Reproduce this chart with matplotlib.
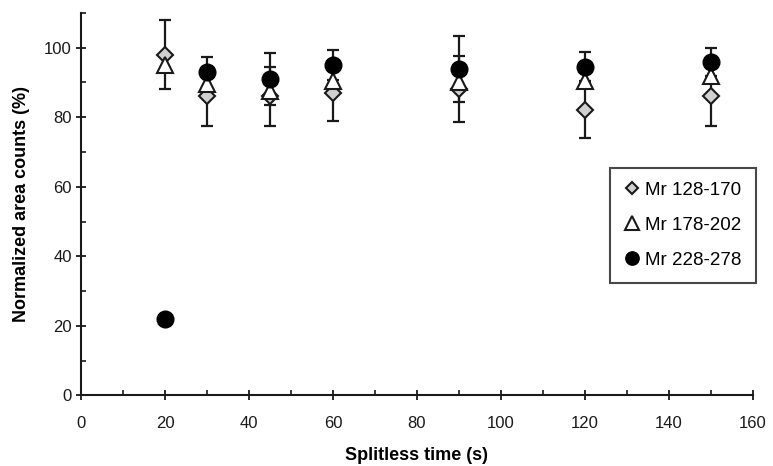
import matplotlib
matplotlib.use("Agg")
import matplotlib.pyplot as plt
from matplotlib.ticker import MultipleLocator

plt.rcParams['font.family'] = ['Liberation Sans', 'DejaVu Sans']

time_s = [20, 30, 45, 60, 90, 120, 150]

mr128_170 = [98, 86, 86, 87, 88, 82, 86]
mr128_170_err = [10, 8.5, 8.5, 8.2, 9.5, 8, 8.5]

mr178_202 = [95, 89.5, 87.5, 90.5, 90, 90.5, 92]

mr228_278 = [22, 93, 91, 95, 94, 94.5, 96]
mr228_278_err = [0, 4.2, 7.6, 4.3, 9.5, 4.2, 4]

labels = ["Mr 128-170", "Mr 178-202", "Mr 228-278"]

fig = plt.figure(figsize=(7.73, 4.66), dpi=100)
ax = fig.add_axes([0.1048, 0.1513, 0.8693, 0.821])

ebkw = dict(fmt='none', ecolor='#1a1a1a', elinewidth=1.6, capsize=4, capthick=1.6)

# error bars (drawn beneath markers)
ax.errorbar(time_s, mr128_170, yerr=mr128_170_err, zorder=2, **ebkw)
t_c = [t for t, e in zip(time_s, mr228_278_err) if e > 0]
v_c = [v for v, e in zip(mr228_278, mr228_278_err) if e > 0]
e_c = [e for e in mr228_278_err if e > 0]
ax.errorbar(t_c, v_c, yerr=e_c, zorder=2, **ebkw)

ax.plot(time_s, mr128_170, linestyle='none', marker='D', markersize=8,
        markerfacecolor='#d0d0d0', markeredgecolor='#1a1a1a', markeredgewidth=1.5,
        label=labels[0], zorder=3)
ax.plot(time_s, mr178_202, linestyle='none', marker='^', markersize=12,
        markerfacecolor='white', markeredgecolor='#1a1a1a', markeredgewidth=1.5,
        label=labels[1], zorder=4)
ax.plot(time_s, mr228_278, linestyle='none', marker='o', markersize=12,
        markerfacecolor='black', markeredgecolor='black', markeredgewidth=1,
        label=labels[2], zorder=5)

ax.set_xlim(0, 160)
ax.set_ylim(0, 110)
ax.xaxis.set_major_locator(MultipleLocator(20))
ax.xaxis.set_minor_locator(MultipleLocator(10))
ax.yaxis.set_minor_locator(MultipleLocator(10))
ax.set_yticks([0, 20, 40, 60, 80, 100])

for s in ['top', 'right']:
    ax.spines[s].set_visible(False)
for s in ['left', 'bottom']:
    ax.spines[s].set_linewidth(1.5)
    ax.spines[s].set_color('#1a1a1a')

ax.tick_params(which='major', direction='inout', length=7, width=1.3, labelsize=12,
               colors='#1a1a1a')
ax.tick_params(axis='x', which='major', pad=11)
ax.tick_params(axis='y', which='major', pad=3)
ax.tick_params(which='minor', direction='in', length=3.5, width=1.2, colors='#1a1a1a')

ax.set_xlabel("Splitless time (s)", fontsize=13, fontweight='bold', labelpad=12)
ax.set_ylabel("Normalized area counts (%)", fontsize=13, fontweight='bold', labelpad=10)

leg = ax.legend(loc='upper left', bbox_to_anchor=(0.787, 0.595), frameon=True, fancybox=False,
                edgecolor='#1a1a1a', fontsize=13.5, labelspacing=0.95, handletextpad=0.25,
                handlelength=0.9, borderpad=0.75, markerscale=0.8, borderaxespad=0)
leg.get_frame().set_linewidth(1.5)

fig.savefig("out.png", dpi=100)
